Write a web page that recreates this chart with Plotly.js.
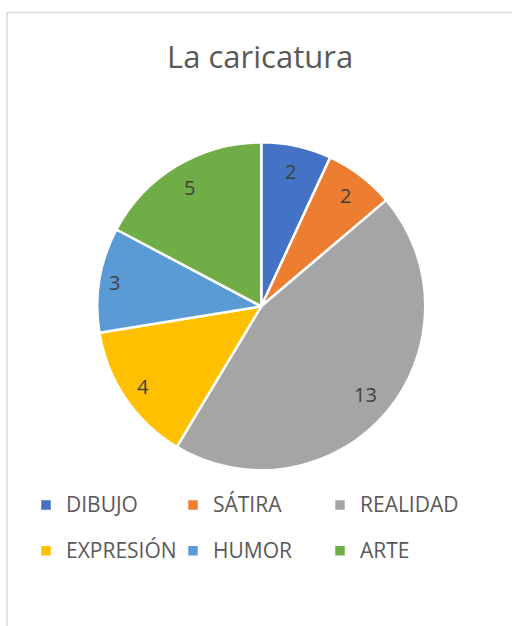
<!DOCTYPE html>
<html>
<head>
<meta charset="utf-8">
<script src="https://cdn.plot.ly/plotly-3.0.1.min.js"></script>
<style>html,body{margin:0;padding:0;background:#fff;}#chart{width:512px;height:626px;}</style>
</head>
<body>
<div id="chart"></div>
<script>
const categories = ["DIBUJO", "SÁTIRA", "REALIDAD", "EXPRESIÓN", "HUMOR", "ARTE"];
const values = [2, 2, 13, 4, 3, 5];
const colors = ["#4472C4", "#ED7D31", "#A5A5A5", "#FFC000", "#5B9BD5", "#70AD47"];

const W = 512, H = 626;
const cx = 261.3, cy = 306.3, R = 164;
const inset = 157.5, halfH = 18.7, halfDigit = 5.5;

const total = values.reduce((a, b) => a + b, 0);
let cum = 0;
const annotations = values.map((v) => {
  const mid = (cum + v / 2) / total * 2 * Math.PI;
  cum += v;
  const s = Math.sin(mid), c = Math.cos(mid);
  const r = inset - Math.abs(s) * halfDigit * String(v).length - Math.abs(c) * halfH;
  const px = cx + r * s;
  const py = cy - r * c;
  return {
    x: px / W, y: 1 - py / H, xref: "paper", yref: "paper",
    xanchor: "center", yanchor: "middle",
    text: String(v), showarrow: false,
    font: {family: "Open Sans, sans-serif", size: 20, color: "#404040"}
  };
});

const legendLabels = categories.map(c => '<span style="font-size:21px;baseline-shift:6px">' + c + '</span>');

const trace = {
  type: "pie",
  labels: legendLabels,
  values: values,
  sort: false,
  direction: "clockwise",
  rotation: 0,
  textinfo: "none",
  hoverinfo: "label+value",
  marker: {colors: colors, line: {color: "#ffffff", width: 2.5}},
  domain: {x: [(cx - R) / W, (cx + R) / W], y: [1 - (cy + R) / H, 1 - (cy - R) / H]}
};

const layout = {
  width: W, height: H,
  margin: {l: 0, r: 0, t: 0, b: 0},
  paper_bgcolor: "#ffffff",
  title: {
    text: "La caricatura",
    font: {family: "Open Sans, sans-serif", size: 31, color: "#595959"},
    x: 0.508, xanchor: "center", y: 1 - 57 / H, yanchor: "middle", yref: "paper"
  },
  showlegend: true,
  legend: {
    orientation: "h",
    x: 26 / W, xanchor: "left",
    y: 1 - 477 / H, yanchor: "top",
    entrywidth: 102, entrywidthmode: "pixels",
    font: {family: "Open Sans, sans-serif", size: 33, color: "#595959"},
    itemwidth: 30,
    bgcolor: "rgba(0,0,0,0)"
  },
  annotations: annotations,
  shapes: [{
    type: "rect", xref: "paper", yref: "paper",
    x0: 7 / W, x1: 530 / W, y0: -0.1, y1: 1 - 12.5 / H,
    line: {color: "#d9d9d9", width: 1.5}
  }]
};

Plotly.newPlot("chart", [trace], layout, {displayModeBar: false, staticPlot: true});
</script>
</body>
</html>
